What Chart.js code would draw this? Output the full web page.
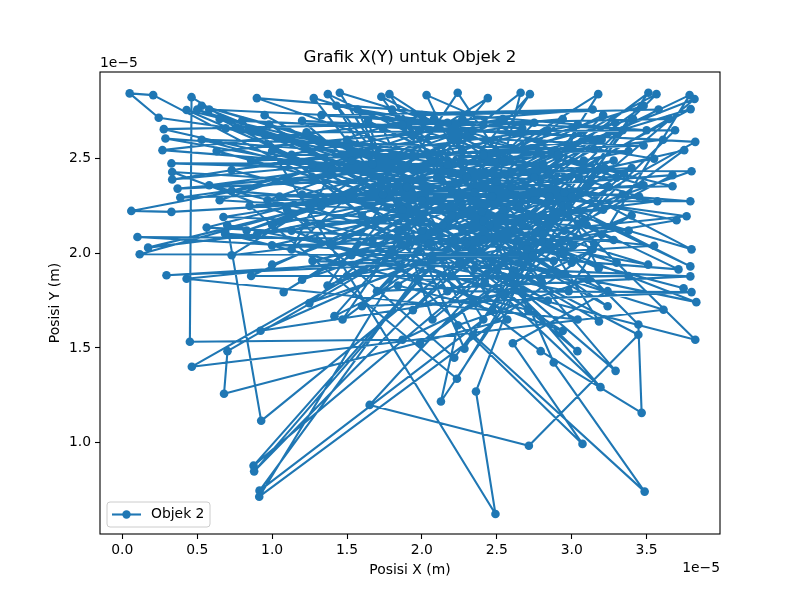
<!DOCTYPE html>
<html>
<head>
<meta charset="utf-8">
<script src="https://cdn.jsdelivr.net/npm/chart.js@4.4.1/dist/chart.umd.min.js"></script>
<style>
    html, body { margin: 0; padding: 0; background: #ffffff; }
</style>
</head>
<body>
<canvas id="grafikXY" width="800" height="600"></canvas>
<script>
// Posisi objek 2 (satuan 1e-5 m), urutan sesuai lintasan
const posisiX = [
    1.87, 3.38, 0.53, 2.94, 0.876, 2.21, 3.767, 1.27, 2.84, 0.206,
    0.049, 0.243, 2.67, 3.825, 1.40, 3.21, 0.880, 2.27, 3.51, 1.00,
    2.491, 2.361, 3.04, 0.060, 0.328, 3.48, 1.452, 2.41, 0.916, 2.07,
    3.65, 0.277, 2.81, 1.651, 2.714, 3.445, 0.65, 2.54, 3.794, 1.13,
    2.94, 0.462, 0.451, 1.870, 3.14, 0.914, 2.00, 3.572, 1.53, 2.88,
    0.101, 3.28, 1.74, 2.34, 3.487, 2.880, 2.17, 3.800, 0.98, 2.61,
    3.18, 0.288, 2.47, 0.464, 3.613, 1.60, 2.659, 2.41, 0.927, 0.70,
    2.98, 3.787, 1.20, 2.75, 0.172, 3.34, 2.127, 2.24, 3.11, 0.58,
    2.27, 3.792, 1.372, 2.57, 0.679, 0.702, 2.60, 3.792, 1.47, 2.793,
    3.467, 3.445, 2.08, 0.268, 2.90, 1.94, 3.673, 0.85, 2.234, 2.74,
    0.116, 3.29, 1.67, 3.072, 2.607, 3.24, 0.429, 2.30, 1.249, 3.800,
    1.94, 3.192, 2.54, 0.333, 3.00, 1.416, 2.721, 2.14, 3.747, 0.73,
    2.84, 1.077, 3.177, 2.47, 0.295, 3.55, 1.10, 2.216, 3.41, 0.563,
    2.85, 1.80, 3.293, 2.67, 0.923, 3.10, 1.33, 3.832, 0.50, 2.20,
    1.783, 2.41, 0.387, 3.673, 1.57, 2.284, 3.08, 0.675, 2.95, 1.986,
    3.751, 0.999, 2.64, 3.825, 1.20, 3.038, 2.34, 0.429, 3.04, 1.84,
    3.566, 2.67, 0.53, 3.15, 1.50, 3.700, 0.69, 2.55, 3.182, 1.07,
    2.81, 0.328, 3.30, 2.031, 2.71, 0.686, 3.713, 1.64, 2.07, 3.820,
    1.00, 2.91, 0.369, 3.40, 1.37, 2.239, 2.54, 0.86, 3.38, 1.97,
    3.20, 0.333, 2.75, 1.70, 3.792, 1.27, 2.41, 0.58, 3.50, 0.898,
    2.17, 3.61, 0.80, 2.34, 1.278, 3.45, 1.53, 2.440, 0.73, 3.21,
    1.729, 2.27, 3.24, 0.95, 2.00, 3.55, 1.43, 2.17, 3.800, 1.60,
    2.94, 0.63, 3.01, 1.87, 3.14, 1.33, 2.67, 0.83, 3.48, 1.84,
    2.47, 3.69, 1.23, 2.81, 3.512, 1.47, 2.34, 0.90, 3.28, 1.80,
    3.58, 2.00, 1.13, 3.38, 1.00, 2.54, 0.86, 3.48, 1.94, 2.27,
    0.65, 3.08, 0.73, 2.41, 0.97, 3.34, 1.20, 2.07, 1.33, 1.74,
    1.67, 1.40, 1.13, 1.80, 2.25, 3.35, 2.60, 1.05, 2.95, 2.35,
    3.20, 2.50, 1.50, 2.70, 3.05, 2.20, 2.85, 3.30, 2.45, 2.90,
    1.90, 2.65, 3.15, 2.35, 2.80, 3.25, 2.55, 2.10, 3.00, 2.40,
    2.75, 3.10, 2.30, 2.95, 3.40, 2.50, 2.20, 2.85, 3.18, 2.62,
    2.05, 2.98, 2.42, 3.22
];
const posisiY = [
    2.23, 2.12, 2.78, 2.25, 0.878, 2.07, 2.196, 2.47, 1.75, 2.836,
    2.845, 2.716, 2.44, 1.543, 2.04, 2.73, 0.848, 2.12, 1.94, 2.54,
    0.623, 1.270, 2.68, 2.224, 2.219, 2.36, 2.848, 1.65, 0.746, 1.99,
    2.71, 2.656, 2.20, 1.199, 0.983, 1.570, 2.71, 2.23, 2.762, 2.12,
    1.59, 2.825, 1.533, 1.543, 2.02, 0.714, 2.12, 2.275, 2.49, 1.96,
    2.086, 2.07, 2.66, 1.57, 0.741, 1.423, 2.69, 2.021, 2.68, 1.91,
    2.44, 2.607, 2.30, 1.401, 1.702, 2.20, 2.848, 2.07, 1.115, 2.15,
    1.80, 2.836, 1.86, 2.28, 2.030, 2.65, 1.217, 1.62, 1.86, 2.36,
    2.54, 1.931, 2.841, 1.65, 1.258, 1.483, 2.35, 2.275, 2.28, 1.483,
    1.157, 1.624, 2.71, 2.545, 2.38, 1.70, 2.413, 2.25, 1.337, 1.99,
    1.995, 2.69, 2.07, 0.993, 1.525, 1.80, 2.757, 2.40, 1.737, 2.434,
    2.44, 1.293, 1.78, 2.430, 2.30, 1.668, 2.841, 2.15, 1.815, 2.44,
    2.65, 1.795, 2.841, 1.96, 1.884, 2.04, 2.23, 1.448, 2.71, 2.136,
    2.05, 2.76, 1.379, 1.80, 1.591, 2.35, 2.15, 1.742, 2.76, 2.33,
    2.841, 2.52, 2.295, 2.354, 2.76, 1.496, 2.49, 2.192, 2.12, 1.525,
    2.545, 2.042, 2.07, 2.589, 2.70, 1.483, 2.02, 1.866, 1.65, 2.12,
    2.841, 2.15, 2.60, 2.55, 1.88, 2.175, 2.66, 2.42, 1.640, 2.62,
    2.47, 2.475, 2.40, 2.836, 1.70, 2.104, 1.915, 2.70, 1.65, 2.815,
    1.94, 2.52, 2.342, 2.45, 1.83, 2.848, 2.49, 1.88, 1.88, 1.86,
    2.60, 2.390, 2.69, 1.80, 1.878, 1.96, 2.17, 2.76, 2.65, 2.820,
    2.47, 2.60, 2.70, 1.75, 2.820, 2.30, 1.99, 2.820, 1.99, 2.23,
    2.827, 2.25, 1.72, 2.73, 2.28, 2.50, 2.78, 1.80, 1.795, 1.72,
    2.71, 2.54, 2.04, 2.68, 2.76, 2.73, 2.66, 2.12, 2.78, 1.83,
    1.70, 2.65, 2.64, 2.10, 2.848, 1.65, 2.65, 2.10, 2.49, 2.02,
    2.76, 2.73, 2.52, 2.54, 2.15, 2.71, 2.49, 2.57, 2.62, 2.71,
    2.28, 2.17, 2.33, 2.68, 2.28, 2.31, 2.31, 2.49, 2.25, 2.31,
    2.47, 2.44, 2.02, 2.52, 1.95, 2.42, 1.88, 2.30, 2.32, 1.92,
    2.10, 2.38, 2.60, 2.02, 2.40, 1.88, 2.30, 1.95, 2.15, 1.90,
    2.35, 2.25, 2.05, 2.32, 1.85, 2.35, 1.98, 2.40, 1.95, 2.22,
    2.40, 2.15, 2.05, 2.00, 2.20, 1.92, 2.20, 2.42, 1.92, 2.12,
    2.05, 2.25, 1.85, 2.45
];
const xTicks = [0.0, 0.5, 1.0, 1.5, 2.0, 2.5, 3.0, 3.5];
const yTicks = [1.0, 1.5, 2.0, 2.5];

const warna = "#1f77b4";
const hurufDasar = "'DejaVu Sans', sans-serif";

let titik = posisiX.map((x, i) => ({ x: x, y: posisiY[i] }));

// Teks tambahan ala matplotlib: judul, faktor 1e-5, kotak sumbu, legenda
const hiasan = {
    id: "hiasan",
    beforeDraw(chart) {
        let c = chart.ctx;
        c.save();
        c.fillStyle = "#ffffff";
        c.fillRect(0, 0, chart.width, chart.height);
        c.restore();
    },
    afterDraw(chart) {
        let c = chart.ctx;
        let a = chart.chartArea;
        c.save();
        // kotak sumbu
        c.strokeStyle = "#000000";
        c.lineWidth = 1.1;
        c.strokeRect(a.left, a.top, a.right - a.left, a.bottom - a.top);

        // judul
        c.fillStyle = "#000000";
        c.font = "16.7px " + hurufDasar;
        c.textAlign = "center";
        c.textBaseline = "middle";
        c.fillText("Grafik X(Y) untuk Objek 2", (a.left + a.right) / 2, 58);

        // faktor skala
        c.font = "13.9px " + hurufDasar;
        c.textAlign = "left";
        c.fillText("1e\u22125", a.left, 63);
        c.textAlign = "right";
        c.fillText("1e\u22125", a.right, 568);

        // legenda
        let lx = a.left + 7, ly = a.bottom - 32, lw = 103, lh = 25;
        c.fillStyle = "rgba(255,255,255,0.8)";
        c.strokeStyle = "#cccccc";
        c.lineWidth = 1;
        c.beginPath();
        c.roundRect(lx, ly, lw, lh, 3);
        c.fill();
        c.stroke();
        let my = ly + lh / 2;
        c.strokeStyle = warna;
        c.lineWidth = 2.1;
        c.beginPath();
        c.moveTo(lx + 5, my);
        c.lineTo(lx + 34, my);
        c.stroke();
        c.fillStyle = warna;
        c.beginPath();
        c.arc(lx + 19.5, my, 4.2, 0, Math.PI * 2);
        c.fill();
        c.fillStyle = "#000000";
        c.textAlign = "left";
        c.fillText("Objek 2", lx + 44, my);
        c.restore();
    }
};

new Chart(document.getElementById("grafikXY").getContext("2d"), {
    type: "scatter",
    data: {
        datasets: [{
            label: "Objek 2",
            data: titik,
            showLine: true,
            borderColor: warna,
            backgroundColor: warna,
            borderWidth: 2.1,
            borderJoinStyle: "round",
            borderCapStyle: "round",
            pointRadius: 4.3,
            pointBorderWidth: 0,
            pointHoverRadius: 4.3,
            tension: 0
        }]
    },
    options: {
        responsive: false,
        animation: false,
        events: [],
        layout: { padding: { top: 72, right: 80, left: 0, bottom: 0 } },
        plugins: {
            legend: { display: false },
            title: { display: false },
            tooltip: { enabled: false }
        },
        scales: {
            x: {
                type: "linear",
                min: -0.149,
                max: 3.99,
                afterFit: (s) => { s.height = 66; },
                afterBuildTicks: (s) => { s.ticks = xTicks.map(v => ({ value: v })); },
                grid: { drawOnChartArea: false, drawTicks: true, tickLength: 5, tickColor: "#000000", tickWidth: 1.1 },
                border: { display: false },
                ticks: {
                    color: "#000000",
                    padding: 3,
                    maxRotation: 0,
                    font: { family: hurufDasar, size: 13.9 },
                    callback: (v) => Number(v).toFixed(1)
                },
                title: {
                    display: true,
                    text: "Posisi X (m)",
                    color: "#000000",
                    font: { family: hurufDasar, size: 13.9 },
                    padding: { top: 0, bottom: 21 }
                }
            },
            y: {
                type: "linear",
                min: 0.517,
                max: 2.958,
                afterFit: (s) => { s.width = 100; },
                afterBuildTicks: (s) => { s.ticks = yTicks.map(v => ({ value: v })); },
                grid: { drawOnChartArea: false, drawTicks: true, tickLength: 5, tickColor: "#000000", tickWidth: 1.1 },
                border: { display: false },
                ticks: {
                    color: "#000000",
                    padding: 4,
                    font: { family: hurufDasar, size: 13.9 },
                    callback: (v) => Number(v).toFixed(1)
                },
                title: {
                    display: true,
                    text: "Posisi Y (m)",
                    color: "#000000",
                    font: { family: hurufDasar, size: 13.9 },
                    padding: { top: 47, bottom: 0 }
                }
            }
        }
    },
    plugins: [hiasan]
});
</script>
</body>
</html>
